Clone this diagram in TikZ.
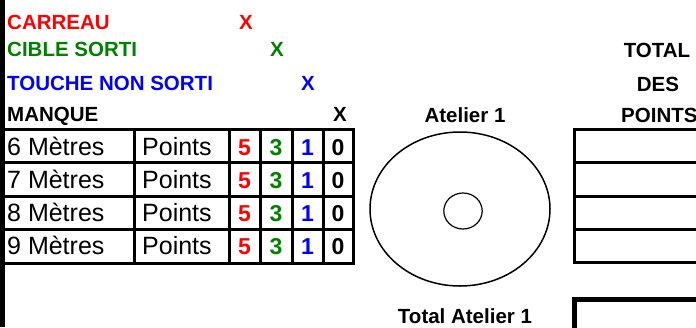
\documentclass[tikz,border=0pt]{standalone}
\usepackage{fontspec}
\setmainfont{Liberation Sans}
\definecolor{vert}{RGB}{0,128,0}
\definecolor{rouge}{RGB}{255,0,0}
\definecolor{bleu}{RGB}{0,0,255}

\begin{document}
\begin{tikzpicture}[x=1pt,y=-1pt,
  hdr/.style={font=\fontsize{20.5}{22}\selectfont\bfseries, inner sep=0pt, anchor=base west},
  hdrc/.style={font=\fontsize{20.5}{22}\selectfont\bfseries, inner sep=0pt, anchor=base},
  cell/.style={font=\fontsize{25}{27}\selectfont, inner sep=0pt, anchor=base west},
  num/.style={font=\fontsize{23}{25}\selectfont\bfseries, inner sep=0pt, anchor=base}]

\useasboundingbox (0,0) rectangle (696,327);
\clip (0,0) rectangle (696,327);

% bande noire a gauche
\fill [black] (0,0) rectangle (4.5,327);

% legende
\node [hdr, rouge] (carreau) at (7,29) {CARREAU};
\node [hdrc, rouge] (carreauX) at (246,29) {X};
\node [hdr, vert] (cible) at (7,56.5) {CIBLE SORTI};
\node [hdrc, vert] (cibleX) at (277,56.5) {X};
\node [hdr, bleu] (touche) at (7,90.5) {TOUCHE NON SORTI};
\node [hdrc, bleu] (toucheX) at (308,90.5) {X};
\node [hdr] (manque) at (7,121.5) {MANQUE};
\node [hdrc] (manqueX) at (340,121.5) {X};

% tableau des distances
\draw [line width=3pt] (0,129) -- (354.5,129);
\draw [line width=3pt] (0,162) -- (354.5,162);
\draw [line width=3pt] (0,196) -- (354.5,196);
\draw [line width=3pt] (0,229) -- (354.5,229);
\draw [line width=3pt] (0,263) -- (354.5,263);
\draw [line width=3pt] (134,129) -- (134,263);
\draw [line width=3pt] (229,129) -- (229,263);
\draw [line width=3pt] (260,129) -- (260,263);
\draw [line width=3pt] (292,129) -- (292,263);
\draw [line width=3pt] (323,129) -- (323,263);
\draw [line width=3pt] (353,129) -- (353,263);

\foreach \m/\y in {6/155,7/188.3,8/221.6,9/254.9}{
  \node [cell] (metres\m) at (7,\y) {\m{} Mètres};
  \node [cell] (points\m) at (142,\y) {Points};
  \node [num, rouge] (cinq\m) at (244.5,\y) {5};
  \node [num, vert] (trois\m) at (276,\y) {3};
  \node [num, bleu] (un\m) at (307.5,\y) {1};
  \node [num] (zero\m) at (338,\y) {0};
}

% cible
\node [hdrc] (atelier) at (465,122) {Atelier 1};
\draw [line width=1.5pt] (460,209) ellipse [x radius=90, y radius=77];
\draw [line width=1.2pt] (463,211) ellipse [x radius=19.2, y radius=18];
\node [hdrc] (totalatelier) at (465,323) {Total Atelier 1};

% total des points
\node [hdrc] (total) at (657,57) {TOTAL};
\node [hdrc] (des) at (658,91) {DES};
\node [hdr] (points) at (621,122) {POINTS};
\draw [line width=3pt] (574,129) rectangle (710,262);
\draw [line width=3pt] (574,162) -- (710,162);
\draw [line width=3pt] (574,196) -- (710,196);
\draw [line width=3pt] (574,229) -- (710,229);
\draw [line width=5pt] (574.5,299) rectangle (710,345);

\end{tikzpicture}
\end{document}
